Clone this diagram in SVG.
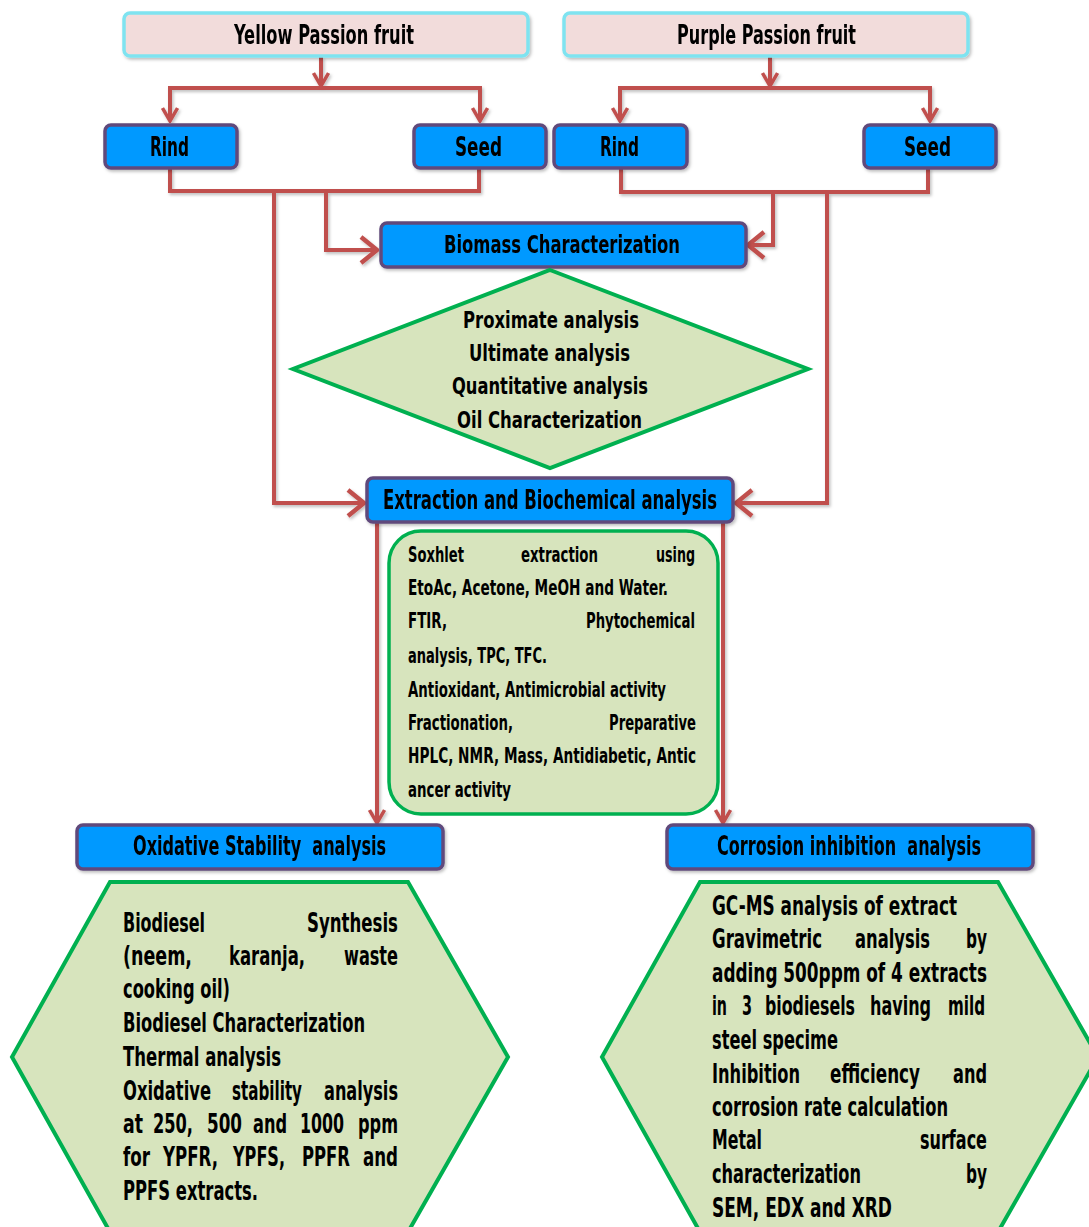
<svg xmlns="http://www.w3.org/2000/svg" width="1089" height="1227" viewBox="0 0 1089 1227">
<defs>
<style>
.t{font-family:"Liberation Sans Narrow","DejaVu Sans Condensed","Liberation Sans",sans-serif;fill:#000;font-weight:bold;}
.h{font-size:26px;}
.d{font-size:23px;}
.s{font-size:21px;}
.x{font-size:26px;}
.top{fill:#F2DCDB;stroke:#7FE3F0;stroke-width:3.5;}
.blue{fill:#0099FF;stroke:#604A7B;stroke-width:3.5;}
.grn{fill:#D7E4BD;stroke:#00B050;stroke-width:4;}
.c{fill:none;stroke:#C0504D;stroke-width:4;stroke-linejoin:miter;}
</style>
<filter id="sh" x="-5%" y="-5%" width="115%" height="130%">
<feDropShadow dx="1.5" dy="2" stdDeviation="1.5" flood-color="#000" flood-opacity="0.25"/>
</filter>
<marker id="m1" markerUnits="userSpaceOnUse" viewBox="0 0 16 18" markerWidth="16" markerHeight="18" refX="14" refY="9" orient="auto-start-reverse">
<path d="M1,1.5 L14,9 L1,16.5" fill="none" stroke="#C0504D" stroke-width="3.5"/>
</marker>
<marker id="m2" markerUnits="userSpaceOnUse" viewBox="0 0 20 30" markerWidth="20" markerHeight="30" refX="18" refY="15" orient="auto">
<path d="M2,2 L18,15 L2,28" fill="none" stroke="#C0504D" stroke-width="4.5"/>
</marker>
</defs>
<rect width="1089" height="1227" fill="#fff"/>

<g id="connectors" filter="url(#sh)">
<path class="c" d="M321,57 V86" marker-end="url(#m1)"/>
<path class="c" d="M770,57 V86" marker-end="url(#m1)"/>
<path class="c" d="M170,121 V88 H480 V121" marker-start="url(#m1)" marker-end="url(#m1)"/>
<path class="c" d="M620,121 V88 H930 V121" marker-start="url(#m1)" marker-end="url(#m1)"/>
<path class="c" d="M170,168 V191 H479 V168"/>
<path class="c" d="M621,168 V192 H928 V168"/>
<path class="c" d="M326,191 V250 H377" marker-end="url(#m2)"/>
<path class="c" d="M773,192 V245 H748" marker-end="url(#m2)"/>
<path class="c" d="M274,191 V503 H364" marker-end="url(#m2)"/>
<path class="c" d="M827,192 V503 H736" marker-end="url(#m2)"/>
<path class="c" d="M377,522 V823" marker-end="url(#m1)"/>
<path class="c" d="M723,522 V823" marker-end="url(#m1)"/>
</g>

<g id="yellow" filter="url(#sh)">
<rect class="top" x="124" y="13" width="404" height="43" rx="6"/>
<text class="t h" x="234" y="44" textLength="180" lengthAdjust="spacingAndGlyphs">Yellow Passion fruit</text>
</g>
<g id="purple" filter="url(#sh)">
<rect class="top" x="564" y="13" width="404" height="43" rx="6"/>
<text class="t h" x="677" y="44" textLength="179" lengthAdjust="spacingAndGlyphs">Purple Passion fruit</text>
</g>
<g id="rind1" filter="url(#sh)">
<rect class="blue" x="105" y="125" width="132" height="43" rx="6"/>
<text class="t h" x="150" y="156" textLength="39" lengthAdjust="spacingAndGlyphs">Rind</text>
</g>
<g id="seed1" filter="url(#sh)">
<rect class="blue" x="414" y="125" width="132" height="43" rx="6"/>
<text class="t h" x="455" y="156" textLength="47" lengthAdjust="spacingAndGlyphs">Seed</text>
</g>
<g id="rind2" filter="url(#sh)">
<rect class="blue" x="554" y="125" width="133" height="43" rx="6"/>
<text class="t h" x="600" y="156" textLength="39" lengthAdjust="spacingAndGlyphs">Rind</text>
</g>
<g id="seed2" filter="url(#sh)">
<rect class="blue" x="864" y="125" width="132" height="43" rx="6"/>
<text class="t h" x="904" y="156" textLength="47" lengthAdjust="spacingAndGlyphs">Seed</text>
</g>

<g id="biomass" filter="url(#sh)">
<rect class="blue" x="381" y="223" width="365" height="44" rx="6"/>
<text class="t h" style="font-size:25px" x="444" y="253" textLength="236" lengthAdjust="spacingAndGlyphs">Biomass Characterization</text>
</g>

<g id="diamond">
<polygon class="grn" points="550,270 808,369 550,468 293,369"/>
<text class="t d" x="463" y="328" textLength="176" lengthAdjust="spacingAndGlyphs">Proximate analysis</text>
<text class="t d" x="469" y="361" textLength="161" lengthAdjust="spacingAndGlyphs">Ultimate analysis</text>
<text class="t d" x="452" y="394" textLength="196" lengthAdjust="spacingAndGlyphs">Quantitative analysis</text>
<text class="t d" x="457" y="428" textLength="185" lengthAdjust="spacingAndGlyphs">Oil Characterization</text>
</g>

<g id="extraction" filter="url(#sh)">
<rect class="blue" x="367" y="478" width="366" height="44" rx="6"/>
<text class="t h" x="383" y="509" textLength="334" lengthAdjust="spacingAndGlyphs">Extraction and Biochemical analysis</text>
</g>

<g id="extraction-details">
<rect class="grn" style="stroke-width:3.5" x="389" y="531" width="329" height="283" rx="32"/>
<text class="t s" x="408" y="562" textLength="56" lengthAdjust="spacingAndGlyphs">Soxhlet</text>
<text class="t s" x="521" y="562" textLength="77" lengthAdjust="spacingAndGlyphs">extraction</text>
<text class="t s" x="656" y="562" textLength="39" lengthAdjust="spacingAndGlyphs">using</text>
<text class="t s" x="408" y="595" textLength="260" lengthAdjust="spacingAndGlyphs">EtoAc, Acetone, MeOH and Water.</text>
<text class="t s" x="408" y="628" textLength="39" lengthAdjust="spacingAndGlyphs">FTIR,</text>
<text class="t s" x="586" y="628" textLength="109" lengthAdjust="spacingAndGlyphs">Phytochemical</text>
<text class="t s" x="408" y="663" textLength="139" lengthAdjust="spacingAndGlyphs">analysis, TPC, TFC.</text>
<text class="t s" x="408" y="697" textLength="258" lengthAdjust="spacingAndGlyphs">Antioxidant, Antimicrobial activity</text>
<text class="t s" x="408" y="730" textLength="105" lengthAdjust="spacingAndGlyphs">Fractionation,</text>
<text class="t s" x="609" y="730" textLength="87" lengthAdjust="spacingAndGlyphs">Preparative</text>
<text class="t s" x="408" y="763" textLength="288" lengthAdjust="spacingAndGlyphs">HPLC, NMR, Mass, Antidiabetic, Antic</text>
<text class="t s" x="408" y="797" textLength="103" lengthAdjust="spacingAndGlyphs">ancer activity</text>
</g>

<g id="oxidative" filter="url(#sh)">
<rect class="blue" x="77" y="825" width="366" height="44" rx="6"/>
<text class="t h" xml:space="preserve" x="133" y="855" textLength="253" lengthAdjust="spacingAndGlyphs">Oxidative Stability  analysis</text>
</g>
<g id="corrosion" filter="url(#sh)">
<rect class="blue" x="667" y="825" width="366" height="44" rx="6"/>
<text class="t h" xml:space="preserve" x="717" y="855" textLength="264" lengthAdjust="spacingAndGlyphs">Corrosion inhibition  analysis</text>
</g>

<g id="oxidative-details">
<polygon class="grn" points="110,882 408,882 508,1057 408,1232 110,1232 12,1057"/>
<text class="t x" x="123" y="932" textLength="82" lengthAdjust="spacingAndGlyphs">Biodiesel</text>
<text class="t x" x="307" y="932" textLength="91" lengthAdjust="spacingAndGlyphs">Synthesis</text>
<text class="t x" x="123" y="965" textLength="69" lengthAdjust="spacingAndGlyphs">(neem,</text>
<text class="t x" x="229" y="965" textLength="76" lengthAdjust="spacingAndGlyphs">karanja,</text>
<text class="t x" x="344" y="965" textLength="54" lengthAdjust="spacingAndGlyphs">waste</text>
<text class="t x" x="123" y="998" textLength="107" lengthAdjust="spacingAndGlyphs">cooking oil)</text>
<text class="t x" x="123" y="1032" textLength="242" lengthAdjust="spacingAndGlyphs">Biodiesel Characterization</text>
<text class="t x" x="123" y="1066" textLength="158" lengthAdjust="spacingAndGlyphs">Thermal analysis</text>
<text class="t x" x="123" y="1100" textLength="88" lengthAdjust="spacingAndGlyphs">Oxidative</text>
<text class="t x" x="232" y="1100" textLength="70" lengthAdjust="spacingAndGlyphs">stability</text>
<text class="t x" x="324" y="1100" textLength="74" lengthAdjust="spacingAndGlyphs">analysis</text>
<text class="t x" x="123" y="1133" textLength="20" lengthAdjust="spacingAndGlyphs">at</text>
<text class="t x" x="153" y="1133" textLength="40" lengthAdjust="spacingAndGlyphs">250,</text>
<text class="t x" x="207" y="1133" textLength="35" lengthAdjust="spacingAndGlyphs">500</text>
<text class="t x" x="253" y="1133" textLength="34" lengthAdjust="spacingAndGlyphs">and</text>
<text class="t x" x="300" y="1133" textLength="44" lengthAdjust="spacingAndGlyphs">1000</text>
<text class="t x" x="358" y="1133" textLength="40" lengthAdjust="spacingAndGlyphs">ppm</text>
<text class="t x" x="123" y="1166" textLength="27" lengthAdjust="spacingAndGlyphs">for</text>
<text class="t x" x="163" y="1166" textLength="55" lengthAdjust="spacingAndGlyphs">YPFR,</text>
<text class="t x" x="233" y="1166" textLength="52" lengthAdjust="spacingAndGlyphs">YPFS,</text>
<text class="t x" x="302" y="1166" textLength="48" lengthAdjust="spacingAndGlyphs">PPFR</text>
<text class="t x" x="363" y="1166" textLength="35" lengthAdjust="spacingAndGlyphs">and</text>
<text class="t x" x="123" y="1200" textLength="135" lengthAdjust="spacingAndGlyphs">PPFS extracts.</text>
</g>

<g id="corrosion-details">
<polygon class="grn" points="700,882 998,882 1098,1057 998,1232 700,1232 602,1057"/>
<text class="t x" x="712" y="915" textLength="245" lengthAdjust="spacingAndGlyphs">GC-MS analysis of extract</text>
<text class="t x" x="712" y="948" textLength="110" lengthAdjust="spacingAndGlyphs">Gravimetric</text>
<text class="t x" x="855" y="948" textLength="75" lengthAdjust="spacingAndGlyphs">analysis</text>
<text class="t x" x="966" y="948" textLength="21" lengthAdjust="spacingAndGlyphs">by</text>
<text class="t x" x="712" y="982" textLength="275" lengthAdjust="spacingAndGlyphs">adding 500ppm of 4 extracts</text>
<text class="t x" x="712" y="1015" textLength="15" lengthAdjust="spacingAndGlyphs">in</text>
<text class="t x" x="742" y="1015" textLength="10" lengthAdjust="spacingAndGlyphs">3</text>
<text class="t x" x="765" y="1015" textLength="90" lengthAdjust="spacingAndGlyphs">biodiesels</text>
<text class="t x" x="870" y="1015" textLength="61" lengthAdjust="spacingAndGlyphs">having</text>
<text class="t x" x="948" y="1015" textLength="37" lengthAdjust="spacingAndGlyphs">mild</text>
<text class="t x" x="712" y="1049" textLength="126" lengthAdjust="spacingAndGlyphs">steel specime</text>
<text class="t x" x="712" y="1083" textLength="88" lengthAdjust="spacingAndGlyphs">Inhibition</text>
<text class="t x" x="830" y="1083" textLength="90" lengthAdjust="spacingAndGlyphs">efficiency</text>
<text class="t x" x="953" y="1083" textLength="34" lengthAdjust="spacingAndGlyphs">and</text>
<text class="t x" x="712" y="1116" textLength="236" lengthAdjust="spacingAndGlyphs">corrosion rate calculation</text>
<text class="t x" x="712" y="1149" textLength="50" lengthAdjust="spacingAndGlyphs">Metal</text>
<text class="t x" x="920" y="1149" textLength="67" lengthAdjust="spacingAndGlyphs">surface</text>
<text class="t x" x="712" y="1183" textLength="149" lengthAdjust="spacingAndGlyphs">characterization</text>
<text class="t x" x="966" y="1183" textLength="21" lengthAdjust="spacingAndGlyphs">by</text>
<text class="t x" x="712" y="1217" textLength="180" lengthAdjust="spacingAndGlyphs">SEM, EDX and XRD</text>
</g>
</svg>
